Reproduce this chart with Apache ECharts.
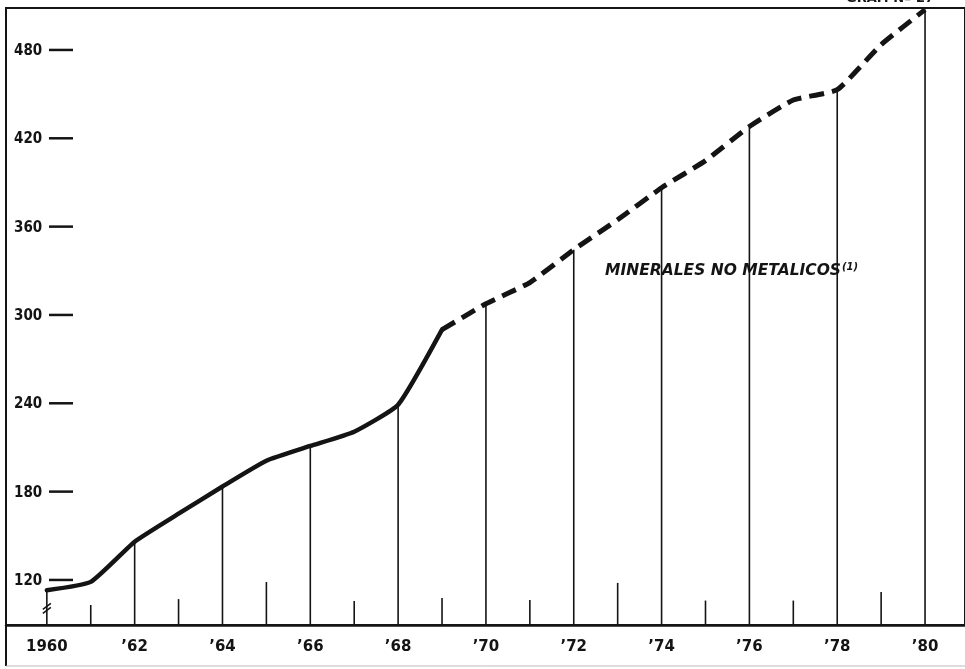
<!DOCTYPE html>
<html>
<head>
<meta charset="utf-8">
<script src="https://cdn.jsdelivr.net/npm/echarts@6/dist/echarts.min.js"></script>
<style>
html,body{margin:0;padding:0;background:#fff;}
#chart{width:965px;height:669px;}
</style>
</head>
<body>
<div id="chart"></div>
<script>
// ---- data ----
const years = [1960,1961,1962,1963,1964,1965,1966,1967,1968,1969,1970,1971,1972,1973,1974,1975,1976,1977,1978,1979,1980];
const values = [113,118.7,146,165,183.5,201,211,220.7,239,290,307.6,322,344.3,364.7,386.4,404.8,428,446,453,483.6,507.4];
const lastSolidYear = 1969;            // solid line up to here, dashed afterwards
const evenYears = [1960,1962,1964,1966,1968,1970,1972,1974,1976,1978,1980];
const oddYears = [1961,1963,1965,1967,1969,1971,1973,1975,1977,1979];
const oddTickTops = [103,107,118.6,105.7,107.7,106.4,118,106,106,111.8];
const yTicks = [120,180,240,300,360,420,480];
const xLabelYears = [1960,1962,1964,1966,1968,1970,1972,1974,1976,1978,1980];
const xLabelTexts = ['1960','\u201962','\u201964','\u201966','\u201968','\u201970','\u201972','\u201974','\u201976','\u201978','\u201980'];
const seriesLabel = 'MINERALES NO METALICOS';
const seriesNote = '(1)';
const graphTitle = 'GRAF. N\u00ba 27';
const breakValue = 102;

const Y_MIN = 89.4, Y_MAX = 508.5;
const INK = '#141414';

const solidData = [], dashData = [];
years.forEach((y, i) => {
  if (y <= lastSolidYear) solidData.push([y, values[i]]);
  if (y >= lastSolidYear) dashData.push([y, values[i]]);
});
const valueOf = y => values[years.indexOf(y)];
const evenData = evenYears.map(y => [y, valueOf(y)]);
const oddData = oddYears.map((y, i) => [y, oddTickTops[i]]);

function verticalRender(width) {
  return function (params, api) {
    const top = api.coord([api.value(0), api.value(1)]);
    const base = api.coord([api.value(0), Y_MIN]);
    return {
      type: 'line',
      shape: { x1: top[0], y1: top[1], x2: base[0], y2: base[1] },
      style: { stroke: INK, lineWidth: width }
    };
  };
}

const chart = echarts.init(document.getElementById('chart'), null, { renderer: 'canvas' });
chart.setOption({
  backgroundColor: '#fff',
  animation: false,
  grid: { left: 6, right: 0, top: 8, bottom: 44, show: true, borderColor: INK, borderWidth: 2, backgroundColor: 'transparent' },
  xAxis: {
    type: 'value', min: 1959.07, max: 1980.91,
    axisLine: { show: true, lineStyle: { color: INK, width: 2.5 } },
    axisTick: { show: false },
    splitLine: { show: false },
    axisLabel: {
      customValues: xLabelYears,
      formatter: v => xLabelTexts[xLabelYears.indexOf(Math.round(v))] || '',
      color: INK, fontSize: 15, fontWeight: 'bold', fontFamily: 'DejaVu Sans', margin: 15
    }
  },
  yAxis: {
    type: 'value', min: Y_MIN, max: Y_MAX,
    axisLine: { show: false }, axisTick: { show: false },
    axisLabel: { show: false }, splitLine: { show: false }
  },
  series: [
    { type: 'custom', data: evenData, renderItem: verticalRender(1.6), z: 2 },
    { type: 'custom', data: oddData, renderItem: verticalRender(1.6), z: 2 },
    {
      type: 'line', data: solidData, showSymbol: false, smooth: 0.15,
      lineStyle: { color: INK, width: 4.5, cap: 'round', join: 'round' }, z: 3
    },
    {
      type: 'line', data: dashData, showSymbol: false, smooth: 0.15,
      lineStyle: { color: INK, width: 5, type: [15, 8], cap: 'butt', join: 'round' }, z: 3
    },
    {
      type: 'custom', data: yTicks.map(v => [years[0], v]), z: 4,
      renderItem: function (params, api) {
        const v = api.value(1);
        const p = api.coord([api.value(0), v]);
        const x0 = params.coordSys.x;
        return {
          type: 'group',
          children: [
            { type: 'text', style: { text: String(v), x: x0 + 8, y: p[1] + 1, verticalAlign: 'middle', align: 'left',
              font: 'bold 15px "DejaVu Sans Condensed", "DejaVu Sans"', fill: INK } },
            { type: 'line', shape: { x1: x0 + 43, y1: p[1], x2: x0 + 67, y2: p[1] },
              style: { stroke: INK, lineWidth: 2.5 } }
          ]
        };
      }
    },
    {
      type: 'custom', data: [[years[0], breakValue]], z: 4,
      renderItem: function (params, api) {
        const p = api.coord([api.value(0), api.value(1)]);
        return {
          type: 'group',
          children: [
            { type: 'line', shape: { x1: p[0] - 4, y1: p[1] + 3, x2: p[0] + 4, y2: p[1] - 3 }, style: { stroke: INK, lineWidth: 1.6 } },
            { type: 'line', shape: { x1: p[0] - 4, y1: p[1] + 7, x2: p[0] + 4, y2: p[1] + 1 }, style: { stroke: INK, lineWidth: 1.6 } }
          ]
        };
      }
    }
  ],
  graphic: [
    {
      type: 'text', left: 605, top: 262, z: 10,
      style: {
        text: '{m|' + seriesLabel + '}{s|' + seriesNote + '}',
        rich: {
          m: { font: 'italic bold 15.5px "DejaVu Sans"', fill: INK, color: INK },
          s: { font: 'italic bold 10px "DejaVu Sans"', fill: INK, color: INK, verticalAlign: 'top', padding: [0, 0, 8, 1] }
        }
      }
    },
    {
      type: 'text', left: 846, top: -8, z: 10,
      style: { text: graphTitle, font: 'bold 13px "DejaVu Sans"', fill: INK }
    },
    {
      type: 'line', z: 10, shape: { x1: 6, y1: 624, x2: 6, y2: 666 }, style: { stroke: INK, lineWidth: 2 }
    },
    {
      type: 'line', z: 10, shape: { x1: 6, y1: 666, x2: 965, y2: 666 }, style: { stroke: '#bbb', lineWidth: 1 }
    }
  ]
});
</script>
</body>
</html>
